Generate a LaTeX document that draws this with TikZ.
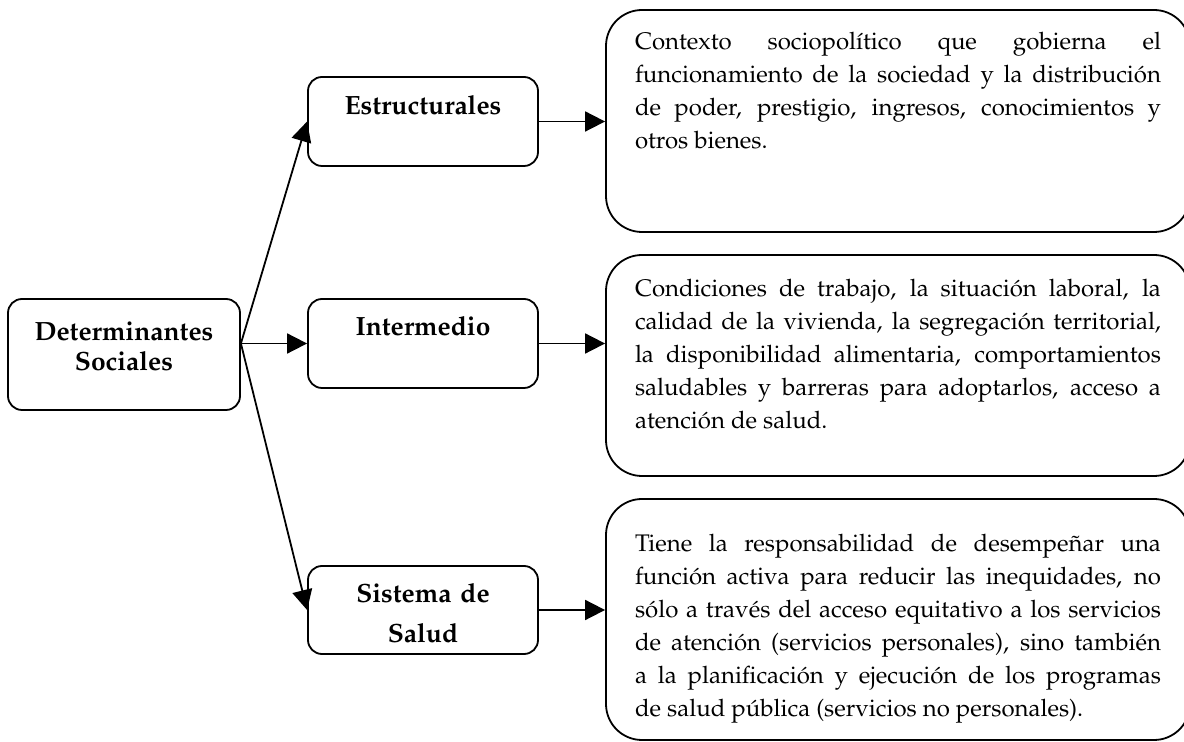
\documentclass[tikz,border=0pt]{standalone}
\usepackage[T1]{fontenc}
\usepackage{mathpazo}
\usetikzlibrary{arrows.meta}

\hyphenpenalty=10000
\tolerance=9999

\begin{document}
\begin{tikzpicture}[
x = 0.5pt,
y = -0.5pt,
term/.style={
  draw,
  line width=0.9pt,
  rounded corners=7pt,
  inner sep=0pt,
  text width=115pt,
  align=center,
  font=\fontsize{13.2}{15}\selectfont\bfseries
  },
desc/.style={
  draw,
  line width=0.9pt,
  rounded corners=18pt,
  inner xsep=14.5pt,
  inner ysep=0pt,
  text width=263pt,
  align=justify,
  font=\fontsize{12}{16.5}\selectfont
  },
link/.style={
  line width=0.9pt,
  ->
  },
>={Triangle[length=10pt,width=10pt]}
]

\useasboundingbox (0,0) rectangle (1184,742);

% left column
\node[term, text width=116pt, text height=21pt, text depth=34.5pt] (det) at (124,354.5) {Determinantes\\Sociales};

% middle column
\node[term, text height=19pt, text depth=25.5pt] (est) at (423,121.5) {Estructurales};
\node[term, text height=18.5pt, text depth=26pt] (mid) at (423,343.5) {Intermedio};
\node[term, text height=18.5pt, text depth=25.5pt] (sis) at (423,610) {Sistema de\\[5pt]Salud};

% right column
\node[desc, text height=20pt, text depth=91pt] (ctx) at (898,121) {Contexto sociopolítico que gobierna el\linebreak
funcionamiento de la sociedad y la distribución\linebreak
de poder, prestigio, ingresos, conocimientos y\linebreak
otros bienes.};
\node[desc, text height=21pt, text depth=89.5pt] (cond) at (898,365.5) {Condiciones de trabajo, la situación laboral, la\linebreak
calidad de la vivienda, la segregación territorial,\linebreak
la disponibilidad alimentaria, comportamientos\linebreak
saludables y barreras para adoptarlos, acceso a\linebreak
atención de salud.};
\node[desc, text height=26.5pt, text depth=94pt] (resp) at (898,619.5) {Tiene la responsabilidad de desempeñar una\linebreak
función activa para reducir las inequidades, no\linebreak
sólo a través del acceso equitativo a los servicios\linebreak
de atención (servicios personales), sino también\linebreak
a la planificación y ejecución de los programas\linebreak
de salud pública (servicios no personales).};

\coordinate (fork) at (det.east |- mid.west);

\draw[link] (fork) -- (est.west);
\draw[link] (fork) -- (mid.west);
\draw[link] (fork) -- (sis.west);

\foreach \a/\b in {est/ctx, mid/cond, sis/resp}
  \draw[link] (\a.east) -- (\a.east -| \b.west);

\end{tikzpicture}
\end{document}
